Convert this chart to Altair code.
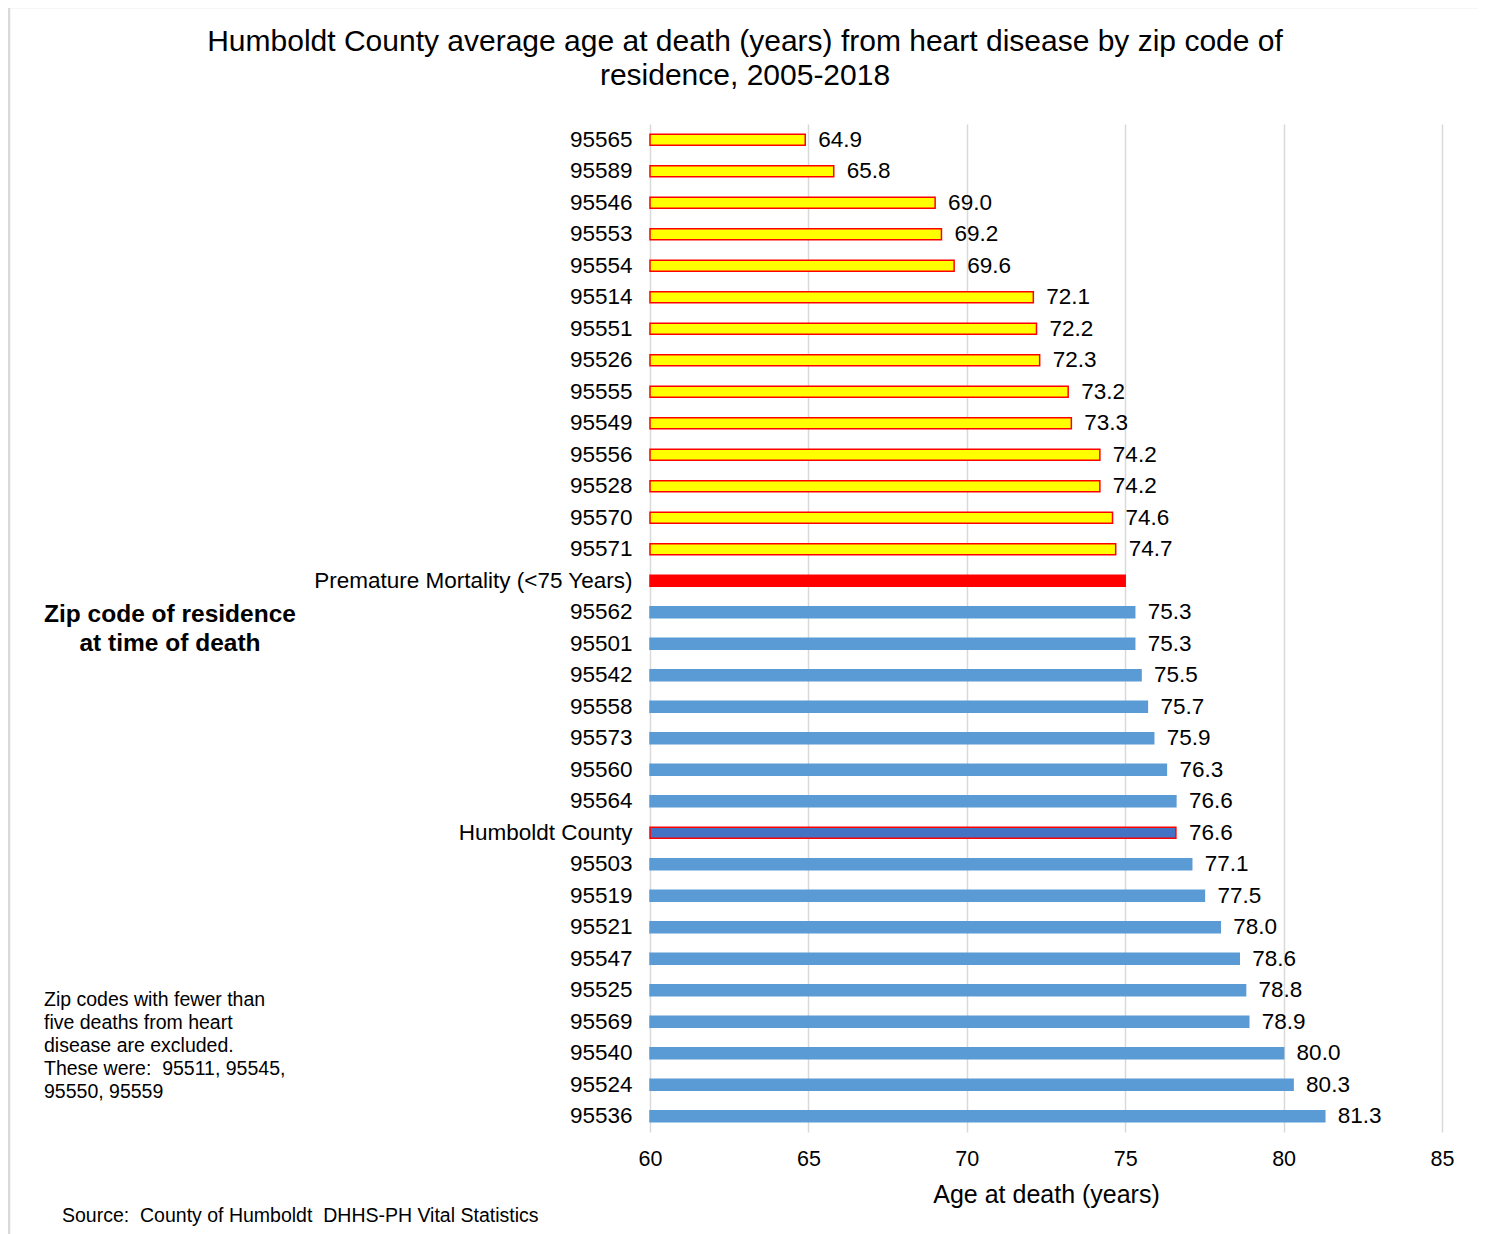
import altair as alt
import pandas as pd

categories = ["95565", "95589", "95546", "95553", "95554", "95514", "95551", "95526",
              "95555", "95549", "95556", "95528", "95570", "95571",
              "Premature Mortality (<75 Years)",
              "95562", "95501", "95542", "95558", "95573", "95560", "95564",
              "Humboldt County",
              "95503", "95519", "95521", "95547", "95525", "95569", "95540", "95524", "95536"]
values = [64.9, 65.8, 69.0, 69.2, 69.6, 72.1, 72.2, 72.3, 73.2, 73.3, 74.2, 74.2, 74.6, 74.7,
          75.0,
          75.3, 75.3, 75.5, 75.7, 75.9, 76.3, 76.6,
          76.6,
          77.1, 77.5, 78.0, 78.6, 78.8, 78.9, 80.0, 80.3, 81.3]
groups = ["under"] * 14 + ["threshold"] + ["over"] * 7 + ["county"] + ["over"] * 9
labels = [f"{v:.1f}" for v in values]
labels[14] = ""

x_ticks = [60, 65, 70, 75, 80, 85]
title_lines = ["Humboldt County average age at death (years) from heart disease by zip code of",
               "residence, 2005-2018"]
side_label = ["Zip code of residence", "at time of death"]
note_lines = ["Zip codes with fewer than", "five deaths from heart", "disease are excluded.",
              "These were:\u00a0 95511, 95545,", "95550, 95559"]
source_text = "Source:\u00a0 County of Humboldt\u00a0 DHHS-PH Vital Statistics"

df = pd.DataFrame({"zip": categories, "value": values, "group": groups, "label": labels})

FONT = "Liberation Sans"
group_domain = ["under", "threshold", "over", "county"]
fill_scale = alt.Scale(domain=group_domain, range=["#FFFF00", "#FF0000", "#5B9BD5", "#4472C4"])
stroke_scale = alt.Scale(domain=group_domain, range=["#FF0000", "#FF0000", "#5B9BD5", "#FF0000"])

base = alt.Chart(df)

y_enc = alt.Y("zip:N", sort=categories,
              scale=alt.Scale(paddingInner=0, paddingOuter=0),
              axis=alt.Axis(title=None, ticks=False, domain=False, labelFontSize=22.5,
                            labelColor="#000000", labelFont=FONT, labelPadding=18,
                            labelLimit=500, grid=False))

bars = base.mark_bar(size=11, strokeWidth=1.5).encode(
    y=y_enc,
    x=alt.X("value:Q", scale=alt.Scale(domain=[60, 85], nice=False, zero=False),
            axis=alt.Axis(values=x_ticks, title="Age at death (years)", grid=True,
                          gridColor="#D9D9D9", gridWidth=1.5, ticks=False, domain=False,
                          labelFontSize=21.5, labelColor="#000000", labelFont=FONT,
                          labelPadding=16, labelFlush=False, titleFontSize=25,
                          titleFontWeight="normal", titleFont=FONT, titleColor="#000000",
                          titlePadding=13)),
    x2=alt.datum(60),
    fill=alt.Fill("group:N", scale=fill_scale, legend=None),
    stroke=alt.Stroke("group:N", scale=stroke_scale, legend=None),
)

text = base.mark_text(align="left", baseline="middle", dx=13, fontSize=22.5, font=FONT,
                      color="#000000").encode(
    y=alt.Y("zip:N", sort=categories),
    x=alt.X("value:Q"),
    text="label:N",
)

one = alt.Chart(pd.DataFrame({"k": [0]}))

frame = one.mark_rect(fill=None, stroke="#D9D9D9", strokeWidth=2.5).encode(
    x=alt.value(-641), x2=alt.value(831), y=alt.value(-117), y2=alt.value(1130))

title = one.mark_text(text=title_lines, fontSize=30, font=FONT, align="center",
                      baseline="middle", lineHeight=34, color="#000000").encode(
    x=alt.value(95), y=alt.value(-82))

side = one.mark_text(text=side_label, fontSize=24.5, fontWeight="bold", font=FONT,
                     align="center", baseline="middle", lineHeight=29,
                     color="#000000").encode(x=alt.value(-480), y=alt.value(491))

note = one.mark_text(text=note_lines, fontSize=19.5, font=FONT, align="left",
                     baseline="middle", lineHeight=23, color="#000000").encode(
    x=alt.value(-606), y=alt.value(876))

source = one.mark_text(text=source_text, fontSize=19.5, font=FONT, align="left",
                       baseline="middle", color="#000000").encode(
    x=alt.value(-588), y=alt.value(1092))

chart = alt.layer(frame, bars, text, title, side, note, source).properties(
    width=792, height=1008,
    autosize=alt.AutoSizeParams(type="none"),
    padding={"left": 642, "top": 116, "right": 36, "bottom": 102},
).configure_view(stroke=None)

chart.save("out.html", embed_options={"renderer": "svg", "actions": False})
